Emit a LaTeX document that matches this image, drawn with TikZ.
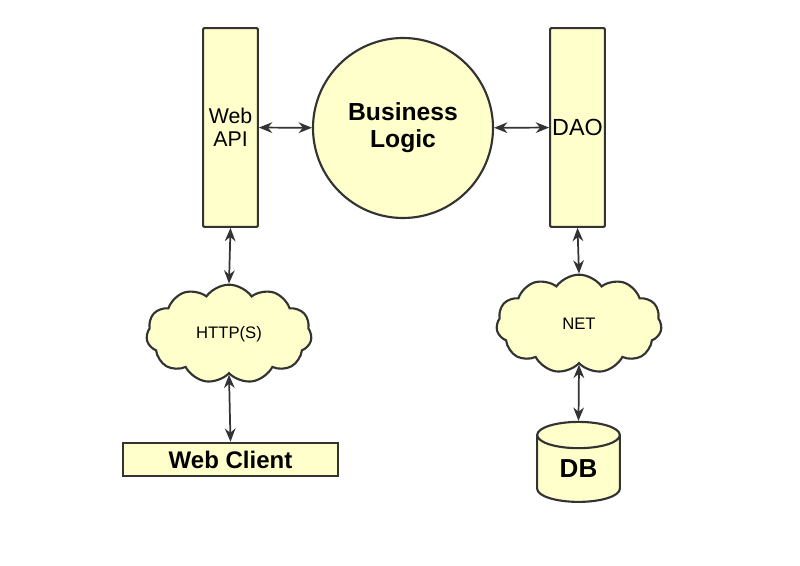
\documentclass[tikz,border=0pt]{standalone}
\usepackage{fontspec}
\setmainfont{Liberation Sans}
\usetikzlibrary{positioning,shapes.symbols,shapes.geometric,arrows.meta}

\definecolor{paleyellow}{HTML}{FFFFCC}
\definecolor{darkline}{HTML}{333333}

\begin{document}
\begin{tikzpicture}[x=0.75pt,y=-0.75pt,
    every node/.style = {draw=darkline, fill=paleyellow, line width=1.6pt, inner sep=0pt},
    layernode/.style = {rectangle, rounded corners=0.8pt, minimum width=41pt, minimum height=149pt, font=\fontsize{16}{17}\selectfont, align=center},
    roundnode/.style = {circle, minimum size=135pt, font=\bfseries\fontsize{18.5}{20}\selectfont, align=center},
    cloudnode/.style = {cloud, cloud puffs=11, cloud puff arc=110, aspect=1.7, minimum width=124pt, minimum height=74pt, font=\fontsize{12.5}{14}\selectfont},
    clientnode/.style = {rectangle, minimum width=161pt, minimum height=25pt, font=\bfseries\fontsize{18}{19}\selectfont},
    dbnode/.style = {cylinder, shape border rotate=90, aspect=0.7, minimum width=62pt, minimum height=60pt, font=\bfseries\fontsize{19.5}{21}\selectfont},
    link/.style = {draw=darkline, line width=1.3pt, {Stealth[length=10pt,width=8pt]}-{Stealth[length=10pt,width=8pt]}}]
  \useasboundingbox (0,0) rectangle (800,566);

  % layers
  \node[layernode] (api) at (230.5,127.5) {Web\\API};
  \node[roundnode] (logic) at (403,128) {Business\\Logic};
  \node[layernode, font=\fontsize{17.5}{18}\selectfont] (dao) at (577.5,127.5) {DAO};

  % network
  \node[cloudnode] (http) at (229,334) {HTTP(S)};
  \node[cloudnode] (net) at (579,324) {NET};

  % ends
  \node[clientnode] (client) at (230.5,459.5) {Web Client};
  \node[dbnode] (db) at (578.5,469) {DB};

  \draw[link] (api) -- (logic);
  \draw[link] (logic) -- (dao);
  \draw[link] (api.south) -- (http.north);
  \draw[link] (http.south) -- (client.north);
  \draw[link] (dao.south) -- (net.north);
  \draw[link] (net.south) -- (db.north);
\end{tikzpicture}
\end{document}
